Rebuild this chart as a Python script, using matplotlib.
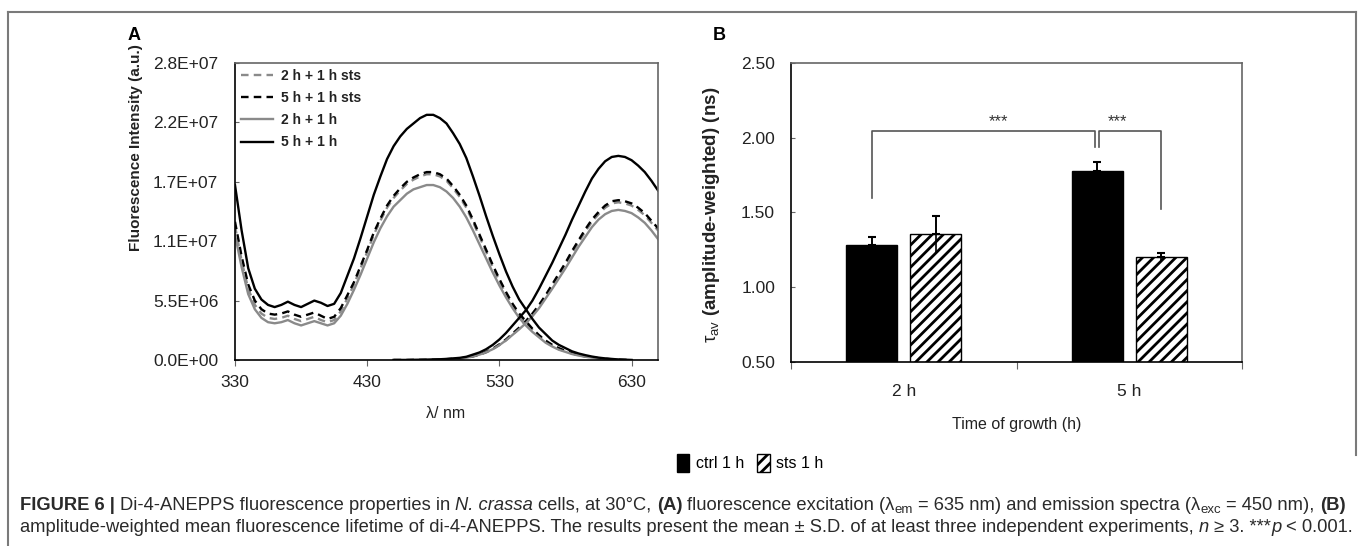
import matplotlib
matplotlib.use('Agg')
import matplotlib.pyplot as plt
import numpy as np
from matplotlib.patches import Patch
from matplotlib.lines import Line2D

plt.rcParams['font.family'] = ['Liberation Sans', 'DejaVu Sans']
plt.rcParams['mathtext.fontset'] = 'custom'
plt.rcParams['mathtext.rm'] = 'Liberation Sans'
plt.rcParams['mathtext.it'] = 'Liberation Sans:italic'
plt.rcParams['mathtext.bf'] = 'Liberation Sans:bold'
plt.rcParams['hatch.linewidth'] = 2.0

# ---------------- data: panel A (intensity in units of 1e6 a.u.) ----------------
ex_wl = np.arange(330, 631, 5)
em_wl = np.arange(450, 651, 5)

ex_5h = [16.2, 12.0, 8.5, 6.6, 5.6, 5.1, 4.9, 5.1, 5.4, 5.1, 4.9, 5.2, 5.5, 5.3, 5.0, 5.2,
         6.2, 7.8, 9.4, 11.3, 13.3, 15.3, 17.0, 18.6, 19.8, 20.7, 21.4, 21.9, 22.4, 22.7, 22.7,
         22.4, 21.9, 21.0, 20.0, 18.7, 17.0, 15.2, 13.3, 11.5, 9.8, 8.2, 6.8, 5.6, 4.7, 3.8,
         3.0, 2.4, 1.8, 1.4, 1.1, 0.8, 0.6, 0.45, 0.32, 0.22, 0.15, 0.1, 0.05, 0.02, 0.0]
em_5h = [0.0, 0.0, 0.0, 0.01, 0.02, 0.03, 0.05, 0.07, 0.1, 0.15, 0.2,
         0.3, 0.5, 0.7, 1.0, 1.4, 1.9, 2.5, 3.2, 3.9, 4.6, 5.5, 6.6, 7.8, 9.0, 10.3, 11.6,
         13.0, 14.3, 15.6, 16.8, 17.7, 18.4, 18.8, 18.9, 18.8, 18.5, 18.0, 17.4, 16.6, 15.7]

ex_5h_sts = [12.8, 9.6, 7.0, 5.5, 4.7, 4.3, 4.2, 4.3, 4.5, 4.2, 4.0, 4.2, 4.4, 4.1, 3.8, 4.0,
             4.8, 6.0, 7.2, 8.7, 10.2, 11.8, 13.1, 14.3, 15.2, 15.9, 16.5, 16.9, 17.2, 17.4, 17.4,
             17.2, 16.8, 16.1, 15.3, 14.3, 13.0, 11.6, 10.2, 8.8, 7.5, 6.3, 5.2, 4.3, 3.6, 2.9,
             2.3, 1.8, 1.4, 1.1, 0.85, 0.62, 0.46, 0.34, 0.25, 0.17, 0.11, 0.07, 0.04, 0.02, 0.0]
em_5h_sts = [0.0, 0.0, 0.0, 0.01, 0.01, 0.02, 0.04, 0.06, 0.08, 0.11, 0.15,
             0.22, 0.35, 0.52, 0.75, 1.05, 1.45, 1.9, 2.45, 3.0, 3.6, 4.3, 5.1, 6.0, 7.0, 8.0, 9.0,
             10.1, 11.1, 12.1, 13.0, 13.7, 14.3, 14.7, 14.8, 14.7, 14.5, 14.1, 13.6, 12.9, 12.2]

ex_2h_sts = [12.4, 9.2, 6.6, 5.1, 4.3, 3.9, 3.8, 3.9, 4.1, 3.8, 3.6, 3.8, 4.0, 3.7, 3.5, 3.7,
             4.5, 5.7, 7.0, 8.5, 10.0, 11.6, 12.9, 14.1, 15.0, 15.7, 16.3, 16.7, 17.0, 17.2, 17.2,
             17.0, 16.6, 15.9, 15.1, 14.1, 12.8, 11.4, 10.0, 8.6, 7.3, 6.1, 5.0, 4.1, 3.4, 2.8,
             2.2, 1.7, 1.3, 1.0, 0.8, 0.6, 0.44, 0.32, 0.23, 0.16, 0.1, 0.06, 0.03, 0.01, 0.0]
em_2h_sts = [0.0, 0.0, 0.0, 0.01, 0.01, 0.02, 0.03, 0.05, 0.07, 0.1, 0.14,
             0.2, 0.32, 0.48, 0.7, 1.0, 1.38, 1.82, 2.35, 2.9, 3.5, 4.2, 5.0, 5.9, 6.9, 7.9, 8.9,
             9.9, 10.9, 11.9, 12.8, 13.5, 14.1, 14.5, 14.6, 14.5, 14.3, 13.9, 13.4, 12.7, 12.0]

ex_2h = [11.6, 8.6, 6.1, 4.7, 3.9, 3.5, 3.4, 3.5, 3.7, 3.4, 3.2, 3.4, 3.6, 3.4, 3.2, 3.4,
         4.1, 5.2, 6.5, 7.9, 9.4, 10.9, 12.2, 13.3, 14.2, 14.8, 15.4, 15.8, 16.0, 16.2, 16.2,
         16.0, 15.6, 15.0, 14.2, 13.2, 12.0, 10.7, 9.4, 8.1, 6.9, 5.8, 4.8, 3.9, 3.2, 2.6,
         2.1, 1.6, 1.25, 0.95, 0.75, 0.55, 0.41, 0.3, 0.22, 0.15, 0.1, 0.06, 0.03, 0.01, 0.0]
em_2h = [0.0, 0.0, 0.0, 0.01, 0.01, 0.02, 0.03, 0.05, 0.07, 0.1, 0.14,
         0.21, 0.33, 0.5, 0.72, 1.0, 1.38, 1.82, 2.33, 2.85, 3.4, 4.05, 4.8, 5.7, 6.6, 7.55, 8.5,
         9.5, 10.5, 11.4, 12.3, 13.0, 13.5, 13.8, 13.9, 13.8, 13.6, 13.2, 12.7, 12.0, 11.2]

series_labels = ['2 h + 1 h sts', '5 h + 1 h sts', '2 h + 1 h', '5 h + 1 h']
a_yticks = [0, 5.5e6, 1.1e7, 1.65e7, 2.2e7, 2.75e7]
a_yticklabels = ['0.0E+00', '5.5E+06', '1.1E+07', '1.7E+07', '2.2E+07', '2.8E+07']
a_xticks = [330, 430, 530, 630]

# ---------------- data: panel B ----------------
groups = ['2 h', '5 h']
ctrl_mean = [1.28, 1.78]
ctrl_sd = [0.055, 0.06]
sts_mean = [1.355, 1.20]
sts_sd = [0.12, 0.03]
b_yticks = [0.5, 1.0, 1.5, 2.0, 2.5]

# ---------------- figure ----------------
W, H = 1360, 546
fig = plt.figure(figsize=(W / 100, H / 100), dpi=100)


def fx(px):
    return px / W


def fy(py):
    return 1 - py / H


TXT = '#222222'
SPINE_GRAY = '#666666'
TICK_FS = 12.5

# outer frame
frame_col = '#7a7a7a'
fig.add_artist(Line2D([fx(8), fx(8)], [fy(546), fy(12)], color=frame_col, lw=1.5))
fig.add_artist(Line2D([fx(8), fx(1356)], [fy(12), fy(12)], color=frame_col, lw=1.5))
fig.add_artist(Line2D([fx(1356), fx(1356)], [fy(12), fy(455)], color=frame_col, lw=1.5))

# ---------- panel A ----------
axA = fig.add_axes([fx(235), fy(360), (658 - 235) / W, (360 - 63) / H])
styles = [('#8a8a8a', (0, (3.2, 2.2))), ('black', (0, (3.2, 2.2))),
          ('#8a8a8a', '-'), ('black', '-')]
ex_all = [ex_2h_sts, ex_5h_sts, ex_2h, ex_5h]
em_all = [em_2h_sts, em_5h_sts, em_2h, em_5h]
for lab, (col, ls), ex, em in zip(series_labels, styles, ex_all, em_all):
    axA.plot(ex_wl, np.array(ex) * 1e6, color=col, ls=ls, lw=1.7, label=lab)
    axA.plot(em_wl, np.array(em) * 1e6, color=col, ls=ls, lw=1.7)
axA.set_xlim(330, 650)
axA.set_ylim(0, 2.75e7)
axA.set_xticks(a_xticks)
axA.set_xticklabels([str(v) for v in a_xticks])
axA.set_yticks(a_yticks)
axA.set_yticklabels(a_yticklabels)
axA.tick_params(axis='y', direction='in', length=3, pad=12, labelsize=TICK_FS,
                labelcolor=TXT, color=SPINE_GRAY)
axA.tick_params(axis='x', direction='out', length=4, pad=7, labelsize=TICK_FS,
                labelcolor=TXT, color=SPINE_GRAY)
for s in ['left', 'bottom']:
    axA.spines[s].set_color('black')
    axA.spines[s].set_linewidth(1.2)
for s in ['top', 'right']:
    axA.spines[s].set_color(SPINE_GRAY)
    axA.spines[s].set_linewidth(1.2)
leg = axA.legend(loc='upper left', frameon=False, prop={'weight': 'bold', 'size': 10},
                 handlelength=2.3, labelspacing=0.58, borderaxespad=0.3,
                 handletextpad=0.55, borderpad=0.15)
for t in leg.get_texts():
    t.set_color(TXT)

fig.text(fx(128), fy(36), 'A', fontsize=13, fontweight='bold', va='center', ha='left')
fig.text(fx(136), fy(148), 'Fluorescence Intensity (a.u.)', rotation=90, fontsize=11,
         fontweight='bold', ha='center', va='center', color=TXT)
fig.text(fx(446), fy(414), 'λ/ nm', fontsize=11.5, ha='center', va='center', color=TXT)

# ---------- panel B ----------
axB = fig.add_axes([fx(791), fy(362), (1242 - 791) / W, (362 - 63) / H])
x = np.arange(len(groups))
bw = 0.226
off = 0.142
axB.bar(x - off, ctrl_mean, bw, color='black', edgecolor='black', lw=1, zorder=2)
axB.bar(x + off, sts_mean, bw, color='white', edgecolor='black', hatch='///', lw=1, zorder=2)
axB.errorbar(x - off, ctrl_mean, yerr=ctrl_sd, fmt='none', ecolor='black', elinewidth=1.2,
             capsize=0, zorder=3)
axB.errorbar(x + off, sts_mean, yerr=sts_sd, fmt='none', ecolor='black', elinewidth=1.2,
             capsize=0, zorder=3)
axB.errorbar(x - off, ctrl_mean, yerr=[np.zeros(2), ctrl_sd], fmt='none', ecolor='black',
             elinewidth=1.2, capsize=3, capthick=1.5, zorder=3)
axB.errorbar(x + off, sts_mean, yerr=[np.zeros(2), sts_sd], fmt='none', ecolor='black',
             elinewidth=1.2, capsize=3, capthick=1.5, zorder=3)

# significance brackets
br_col = '#555555'
x1, x3, x4 = 0 - off, 1 - off, 1 + off
top = 2.045
axB.plot([x1, x1, x3 - 0.009, x3 - 0.009], [1.597, top, top, 1.938], color=br_col, lw=1.2, zorder=4)
axB.plot([x3 + 0.009, x3 + 0.009, x4, x4], [1.938, top, top, 1.523], color=br_col, lw=1.2, zorder=4)
axB.text(0.42, top + 0.01, '***', ha='center', va='bottom', fontsize=12, color='#333333')
axB.text(0.95, top + 0.01, '***', ha='center', va='bottom', fontsize=12, color='#333333')

axB.set_xlim(-0.5, 1.5)
axB.set_ylim(0.5, 2.5)
axB.set_yticks(b_yticks)
axB.set_yticklabels(['%.2f' % v for v in b_yticks])
axB.set_xticks([-0.5, 0.5, 1.5])
axB.set_xticklabels([])
axB.set_xticks(x, groups, minor=True)
axB.tick_params(axis='y', direction='in', length=3, pad=11.5, labelsize=TICK_FS,
                labelcolor=TXT, color=SPINE_GRAY)
axB.tick_params(axis='x', which='major', direction='out', length=5, color=SPINE_GRAY)
axB.tick_params(axis='x', which='minor', length=0, pad=16, labelsize=TICK_FS, labelcolor=TXT)
for s in ['left', 'bottom']:
    axB.spines[s].set_color('black')
    axB.spines[s].set_linewidth(1.2)
for s in ['top', 'right']:
    axB.spines[s].set_color(SPINE_GRAY)
    axB.spines[s].set_linewidth(1.2)

fig.text(fx(713), fy(36), 'B', fontsize=13, fontweight='bold', va='center', ha='left')
fig.text(fx(712), fy(215), r'$\mathrm{\tau_{av}}$ (amplitude-weighted) (ns)', rotation=90,
         fontsize=13.5, fontweight='bold', ha='center', va='center', color=TXT)
fig.text(fx(1017), fy(424), 'Time of growth (h)', fontsize=11.5, ha='center', va='center', color=TXT)

handles = [Patch(facecolor='black', edgecolor='black'),
           Patch(facecolor='white', edgecolor='black', hatch='///')]
fig.legend(handles, ['ctrl 1 h', 'sts 1 h'], loc='center', bbox_to_anchor=(fx(750), fy(463)),
           ncol=2, frameon=False, fontsize=11.5, handlelength=0.8, handleheight=1.3,
           handletextpad=0.4, columnspacing=0.8)

# ---------------- caption ----------------
CAP_FAM = ['Liberation Sans Narrow', 'Liberation Sans', 'DejaVu Sans']
renderer = fig.canvas.get_renderer()
_space_cache = {}


def space_w(fs, weight, style):
    key = (fs, weight, style)
    if key not in _space_cache:
        a = fig.text(0, 0, 'a a', fontsize=fs, fontweight=weight, fontstyle=style, family=CAP_FAM)
        b = fig.text(0, 0, 'aa', fontsize=fs, fontweight=weight, fontstyle=style, family=CAP_FAM)
        _space_cache[key] = a.get_window_extent(renderer).width - b.get_window_extent(renderer).width
        a.remove()
        b.remove()
    return _space_cache[key]


def draw_line(segs, x0, y, fs):
    xpos = x0
    made = []
    for text, kind in segs:
        weight = 'bold' if 'b' in kind else 'normal'
        style = 'italic' if 'i' in kind else 'normal'
        sub = 's' in kind
        size = fs * 0.72 if sub else fs
        lead = len(text) - len(text.lstrip(' '))
        trail = len(text) - len(text.rstrip(' '))
        core = text.strip(' ')
        xpos += lead * space_w(size, weight, style)
        t = fig.text(fx(xpos), fy(y + (3 if sub else 0)), core, fontsize=size, fontweight=weight,
                     fontstyle=style, family=CAP_FAM, color='#2a2a2a', ha='left', va='baseline')
        made.append(t)
        xpos += t.get_window_extent(renderer).width + trail * space_w(size, weight, style)
    return xpos, made


line1 = [('FIGURE 6 | ', 'b'), ('Di-4-ANEPPS fluorescence properties in ', ''),
         ('N. crassa', 'i'), (' cells, at 30°C, ', ''), ('(A)', 'b'),
         (' fluorescence excitation (λ', ''), ('em', 's'), (' = 635 nm) and emission spectra (λ', ''),
         ('exc', 's'), (' = 450 nm), ', ''), ('(B)', 'b')]
line2 = [('amplitude-weighted mean fluorescence lifetime of di-4-ANEPPS. The results present the '
          'mean ± S.D. of at least three independent experiments, ', ''), ('n', 'i'),
         (' ≥ 3. ***', ''), ('p', 'i'), (' < 0.001.', '')]

x_start = 20
end1, tmp1 = draw_line(line1, x_start, 510, 11)
end2, tmp2 = draw_line(line2, x_start, 532, 11)
for t in tmp1 + tmp2:
    t.remove()
fs_cap = 11 * (1350 - x_start) / (max(end1, end2) - x_start)
draw_line(line1, x_start, 510, fs_cap)
draw_line(line2, x_start, 532, fs_cap)

fig.savefig('out.png', dpi=100)
